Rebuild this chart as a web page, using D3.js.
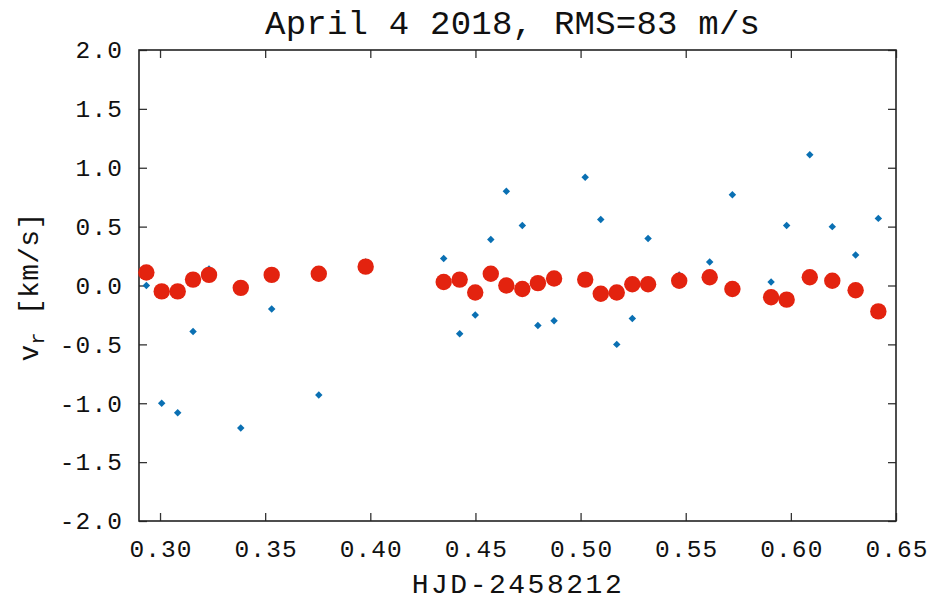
<!DOCTYPE html>
<html>
<head>
<meta charset="utf-8">
<script src="https://cdn.jsdelivr.net/npm/d3@7"></script>
<style>
    body { margin: 0; background: #fff; }
    text { font-family: "Liberation Mono", "DejaVu Sans Mono", monospace; fill: #111; }
</style>
</head>
<body>
<div id="chart"></div>
<script>
// HJD - 2458212 for each spectrum
const hjd = [0.2935, 0.3008, 0.3084, 0.3157, 0.3233, 0.3384, 0.3531, 0.3755, 0.3978,
    0.4349, 0.4425, 0.4499, 0.4573, 0.4647, 0.4723, 0.4797, 0.4874, 0.5022, 0.5096, 0.5172, 0.5246, 0.5321,
    0.5469, 0.5614, 0.5722, 0.5906, 0.5980, 0.6090, 0.6197, 0.6308, 0.6416];

// blue diamonds, km/s
const vrRaw = [-0.00, -1.00, -1.08, -0.39, 0.14, -1.21, -0.20, -0.93, 0.20,
    0.23, -0.41, -0.25, 0.39, 0.80, 0.51, -0.34, -0.30, 0.92, 0.56, -0.50, -0.28, 0.40,
    0.09, 0.20, 0.77, 0.03, 0.51, 1.11, 0.50, 0.26, 0.57];

// red circles, km/s
const vrFit = [0.11, -0.05, -0.05, 0.05, 0.09, -0.02, 0.09, 0.10, 0.16,
    0.03, 0.05, -0.06, 0.10, 0.00, -0.03, 0.02, 0.06, 0.05, -0.07, -0.06, 0.01, 0.01,
    0.04, 0.07, -0.03, -0.10, -0.12, 0.07, 0.04, -0.04, -0.22];

const xTicks = [0.30, 0.35, 0.40, 0.45, 0.50, 0.55, 0.60, 0.65];
const yTicks = [-2.0, -1.5, -1.0, -0.5, 0.0, 0.5, 1.0, 1.5, 2.0];

const titleText = "April 4 2018, RMS=83 m/s";
const xLabel = "HJD-2458212";

(() => {
    const width = 932, height = 602;
    const margin = { top: 50, right: 36, bottom: 81, left: 139 };
    const fmt = d => d3.format(".2f")(d).replace("\u2212", "-");
    const fmtY = d => d3.format(".1f")(d).replace("\u2212", "-");

    const x = d3.scaleLinear().domain([0.29, 0.65]).range([margin.left, width - margin.right]);
    const y = d3.scaleLinear().domain([-2, 2]).range([height - margin.bottom, margin.top]);

    const svg = d3.select("#chart").append("svg")
        .attr("width", width)
        .attr("height", height);

    const tickLen = 8;

    const styleAxis = g => {
        g.select(".domain").remove();
        g.selectAll(".tick line").attr("stroke", "#333").attr("stroke-width", 1.3);
        g.selectAll(".tick text")
            .style("font-size", "24.5px")
            .style("letter-spacing", "1.1px")
            .attr("fill", "#111");
    };

    svg.append("g")
        .attr("transform", `translate(0,${height - margin.bottom})`)
        .call(d3.axisBottom(x).tickValues(xTicks).tickSize(-tickLen).tickPadding(19).tickFormat(fmt))
        .call(styleAxis)
        .selectAll(".tick text").attr("dx", "0.5px");

    svg.append("g")
        .attr("transform", `translate(0,${margin.top})`)
        .call(d3.axisTop(x).tickValues(xTicks).tickSize(-tickLen).tickFormat(""))
        .call(styleAxis);

    svg.append("g")
        .attr("transform", `translate(${margin.left},0)`)
        .call(d3.axisLeft(y).tickValues(yTicks).tickSize(-tickLen).tickPadding(16).tickFormat(fmtY))
        .call(styleAxis);

    svg.append("g")
        .attr("transform", `translate(${width - margin.right},0)`)
        .call(d3.axisRight(y).tickValues(yTicks).tickSize(-tickLen).tickFormat(""))
        .call(styleAxis);

    // frame
    svg.append("rect")
        .attr("x", margin.left)
        .attr("y", margin.top)
        .attr("width", width - margin.left - margin.right)
        .attr("height", height - margin.top - margin.bottom)
        .attr("fill", "none")
        .attr("stroke", "#222")
        .attr("stroke-width", 1.6);

    const rawData = hjd.map((t, i) => ({ t, v: vrRaw[i] }));
    const fitData = hjd.map((t, i) => ({ t, v: vrFit[i] }));

    const diamond = d3.symbol().type(d3.symbolSquare).size(28);

    svg.append("g").selectAll("path")
        .data(rawData)
        .enter()
        .append("path")
        .attr("d", diamond)
        .attr("transform", d => `translate(${x(d.t)},${y(d.v)}) rotate(45)`)
        .attr("fill", "#0a70b3");

    svg.append("g").selectAll("circle")
        .data(fitData)
        .enter()
        .append("circle")
        .attr("cx", d => x(d.t))
        .attr("cy", d => y(d.v))
        .attr("r", 8.2)
        .attr("fill", "#e3230f");

    svg.append("text")
        .attr("x", 512.5)
        .attr("y", 34)
        .attr("text-anchor", "middle")
        .attr("textLength", 495)
        .attr("lengthAdjust", "spacing")
        .style("font-size", "34px")
        .text(titleText);

    svg.append("text")
        .attr("x", 516.7)
        .attr("y", 593)
        .attr("text-anchor", "middle")
        .attr("textLength", 210)
        .attr("lengthAdjust", "spacing")
        .style("font-size", "28px")
        .text(xLabel);

    const yl = svg.append("text")
        .attr("transform", "translate(38,287) rotate(-90)")
        .attr("text-anchor", "middle")
        .style("font-size", "28px")
        .style("letter-spacing", "0.3px");
    yl.append("tspan").text("v");
    yl.append("tspan").attr("dy", 6).style("font-size", "20px").text("r");
    yl.append("tspan").attr("dy", -6).text(" [km/s]");
})();
</script>
</body>
</html>
